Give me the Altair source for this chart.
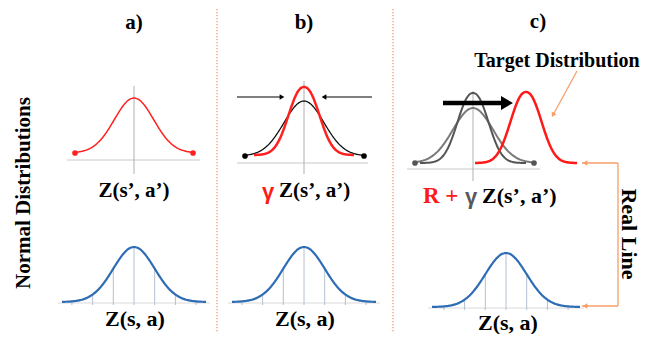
import altair as alt
import pandas as pd
import numpy as np

# ---------------- data ----------------
# distribution curves (screen-like units of the diagram)
curve_name  = ["a_red", "b_black", "b_red", "c_gray_wide", "c_gray_narrow", "c_red", "a_blue", "b_blue", "c_blue"]
curve_mu    = [134, 304, 304, 473, 473, 526, 134, 304, 506]
curve_sd    = [19.7, 20, 15, 20, 15, 15, 20.7, 20.7, 20.7]
curve_peak  = [97, 100, 86, 107, 92, 91, 246, 246, 252]
curve_tail  = [152, 155, 154, 162, 162, 162, 301, 301, 306]
curve_half  = [59, 60, 50, 60, 53, 51, 72, 72, 74]
curve_pow   = [2, 2, 2.2, 2, 2.2, 2.2, 2, 2, 2]
curve_color = ["#FF2020", "#111111", "#FF2020", "#7A7A7A", "#555555", "#FF1A1A", "#2E6DB4", "#2E6DB4", "#2E6DB4"]
curve_width = [1.5, 1.3, 2.5, 2, 2, 2.5, 2.2, 2.2, 2.2]

# sd multiples for the vertical guide lines under the blue curves
guide_k = [-3, -2, -1, 0, 1, 2, 3]

# gray axes of the upper panels
axis_h_x1 = [67, 237, 407]
axis_h_x2 = [200, 368, 540]
axis_h_y  = [159, 162, 168]
axis_v_x  = [134, 304, 473]
axis_v_y1 = [85, 80, 90]
axis_v_y2 = [173, 173, 180]

# end dots
dot_x     = [75, 193, 245, 364, 415, 534]
dot_y     = [152, 152, 155, 155, 162, 162]
dot_color = ["#FF2020", "#FF2020", "#000000", "#000000", "#555555", "#555555"]

# arrows / connector segments
seg_x1    = [237, 372, 443, 577, 582, 618, 618]
seg_y1    = [96, 96, 102, 70, 162, 162, 305]
seg_x2    = [282, 324, 505, 553, 618, 618, 582]
seg_y2    = [96, 96, 102, 114, 162, 305, 305]
seg_color = ["#000000", "#000000", "#000000", "#F5A06A", "#F5A06A", "#F5A06A", "#F5A06A"]
seg_width = [1.2, 1.2, 4.5, 1.3, 1.3, 1.3, 1.3]

head_x     = [282, 324, 507, 553, 585, 585]
head_y     = [96, 96, 102, 114, 162, 305]
head_angle = [90, 270, 90, 208, 270, 270]
head_size  = [30, 30, 190, 30, 30, 30]
head_color = ["#000000", "#000000", "#000000", "#F5A06A", "#F5A06A", "#F5A06A"]

# dotted panel separators
sep_x = [217, 393]

# texts
txt_text  = ["a)", "b)", "c)", "Target Distribution",
             "Z(s\u2019, a\u2019)", "Z(s\u2019, a\u2019)", "R +", "Z(s\u2019, a\u2019)",
             "Z(s, a)", "Z(s, a)", "Z(s, a)", "Normal Distributions", "Real Line",
             "\u03b3", "\u03b3"]
txt_x     = [134, 304, 538, 557, 134, 279, 423, 482, 135, 305, 508, 24, 629, 268, 471]
txt_y     = [22, 22, 21, 60, 190, 190, 195, 195, 318, 318, 322, 192, 233, 191, 196]
txt_color = ["#000000", "#000000", "#000000", "#000000", "#000000", "#000000", "#FF1A1A", "#000000",
             "#000000", "#000000", "#000000", "#000000", "#000000", "#FF1A1A", "#595959"]
txt_size  = [21, 21, 21, 20, 21, 21, 23, 22, 22, 22, 22, 21, 22, 22, 22]
txt_angle = [0, 0, 0, 0, 0, 0, 0, 0, 0, 0, 0, 270, 90, 0, 0]
txt_align = ["center", "center", "center", "center", "center", "left", "left", "left",
             "center", "center", "center", "center", "center", "center", "center"]
txt_font  = ["Liberation Serif"] * 13 + ["Liberation Sans"] * 2

# ---------------- build tables ----------------
rows = []
for n, mu, sd, pk, tl, hf, pw, c, w in zip(curve_name, curve_mu, curve_sd, curve_peak, curve_tail,
                                          curve_half, curve_pow, curve_color, curve_width):
    zs = np.linspace(-hf / sd, hf / sd, 161)
    for j, z in enumerate(zs):
        rows.append(dict(name=n, i=j, x=mu + z * sd,
                         y=tl - (tl - pk) * np.exp(-0.5 * abs(z) ** pw), color=c, w=w))
curves = pd.DataFrame(rows)

guides = []
bases = []
for n, mu, sd, pk, tl, hf in zip(curve_name, curve_mu, curve_sd, curve_peak, curve_tail, curve_half):
    if "blue" not in n:
        continue
    for k in guide_k:
        guides.append(dict(x=mu + k * sd, y=tl + 3, y2=tl - (tl - pk) * np.exp(-0.5 * k * k)))
    bases.append(dict(x=mu - hf - 4, x2=mu + hf + 4, y=tl + 1))
guides = pd.DataFrame(guides)
bases = pd.DataFrame(bases)

axes_h = pd.DataFrame(dict(x=axis_h_x1, x2=axis_h_x2, y=axis_h_y))
axes_v = pd.DataFrame(dict(x=axis_v_x, y=axis_v_y1, y2=axis_v_y2))
dots = pd.DataFrame(dict(x=dot_x, y=dot_y, color=dot_color))
segs = pd.DataFrame(dict(x=seg_x1, y=seg_y1, x2=seg_x2, y2=seg_y2, color=seg_color, w=seg_width))
heads = pd.DataFrame(dict(x=head_x, y=head_y, angle=head_angle, size=head_size, color=head_color))
seps = pd.DataFrame(dict(x=sep_x, y=[8] * len(sep_x), y2=[331] * len(sep_x)))
texts = pd.DataFrame(dict(x=txt_x, y=txt_y, text=txt_text, color=txt_color, size=txt_size,
                          angle=txt_angle, align=txt_align, font=txt_font))

# ---------------- chart ----------------
W, H = 647, 323
xs = alt.Scale(domain=[8, 8 + W], nice=False, zero=False)
ys = alt.Scale(domain=[8, 8 + H], reverse=True, nice=False, zero=False)
X = lambda f="x": alt.X(f"{f}:Q", scale=xs, axis=None)
Y = lambda f="y": alt.Y(f"{f}:Q", scale=ys, axis=None)

layers = []
layers.append(alt.Chart(seps).mark_rule(color="#F4A070", strokeWidth=1.4, strokeDash=[1.2, 1.8])
              .encode(x=X(), y=Y(), y2="y2:Q"))
layers.append(alt.Chart(axes_h).mark_rule(color="#C8C8C8", strokeWidth=1)
              .encode(x=X(), x2="x2:Q", y=Y()))
layers.append(alt.Chart(axes_v).mark_rule(color="#B0B0B0", strokeWidth=1)
              .encode(x=X(), y=Y(), y2="y2:Q"))
layers.append(alt.Chart(bases).mark_rule(color="#DADADA", strokeWidth=1)
              .encode(x=X(), x2="x2:Q", y=Y()))
layers.append(alt.Chart(guides).mark_rule(color="#B4BFD1", strokeWidth=1)
              .encode(x=X(), y=Y(), y2="y2:Q"))
layers.append(alt.Chart(curves).mark_line(interpolate="monotone")
              .encode(x=X(), y=Y(), detail="name:N", order="i:Q",
                      color=alt.Color("color:N", scale=None),
                      strokeWidth=alt.StrokeWidth("w:Q", scale=None)))
layers.append(alt.Chart(dots).mark_circle(size=32, opacity=1)
              .encode(x=X(), y=Y(), color=alt.Color("color:N", scale=None)))
layers.append(alt.Chart(segs).mark_rule()
              .encode(x=X(), y=Y(), x2="x2:Q", y2="y2:Q",
                      color=alt.Color("color:N", scale=None),
                      strokeWidth=alt.StrokeWidth("w:Q", scale=None)))
layers.append(alt.Chart(heads).mark_point(shape="triangle-up", filled=True, opacity=1)
              .encode(x=X(), y=Y(), angle=alt.Angle("angle:Q", scale=None),
                      size=alt.Size("size:Q", scale=None),
                      color=alt.Color("color:N", scale=None)))

for (font, align), _ in texts.groupby(["font", "align"]):
    layers.append(
        alt.Chart(texts).transform_filter(
            (alt.datum.font == font) & (alt.datum.align == align))
        .mark_text(font=font, fontWeight="bold", align=align, baseline="middle")
        .encode(x=X(), y=Y(), text="text:N",
                color=alt.Color("color:N", scale=None),
                size=alt.Size("size:Q", scale=None),
                angle=alt.Angle("angle:Q", scale=None)))

chart = (alt.layer(*layers)
         .properties(width=W, height=H, padding=0, background="white")
         .configure_view(stroke=None))

chart.save("out.html", embed_options={"renderer": "svg", "actions": False})
